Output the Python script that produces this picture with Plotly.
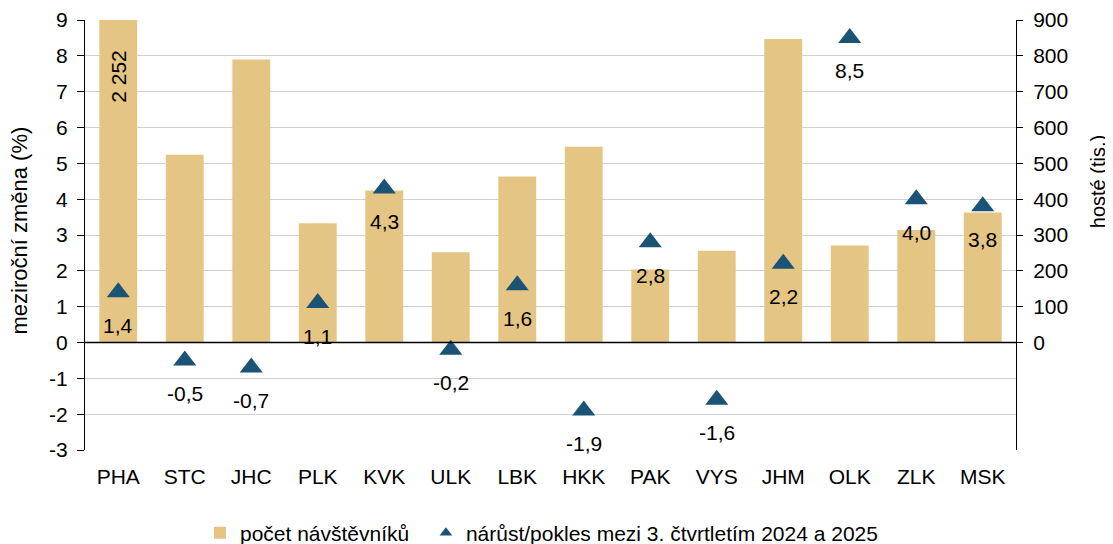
import plotly.graph_objects as go

kraje = ['PHA', 'STC', 'JHC', 'PLK', 'KVK', 'ULK', 'LBK', 'HKK', 'PAK', 'VYS', 'JHM', 'OLK', 'ZLK', 'MSK']
navstevnici = [2252, 524, 790, 333, 424, 252, 463, 546, 204, 256, 847, 271, 314, 363]
zmena = [1.4, -0.5, -0.7, 1.1, 4.3, -0.2, 1.6, -1.9, 2.8, -1.6, 2.2, 8.5, 4.0, 3.8]
ticky_zmena = list(range(-3, 10))
ticky_hoste = list(range(0, 901, 100))

bar_color = '#E5C584'
tri_color = '#1A5376'
font_family = 'Arial, Liberation Sans, sans-serif'

fig = go.Figure()

# sloupce na prave ose (hoste)
fig.add_trace(go.Bar(x=kraje, y=navstevnici, name='počet návštěvníků\u00a0\u00a0',
                     marker=dict(color=bar_color, line_width=0),
                     yaxis='y'))

# trojuhelniky na leve ose (mezirocni zmena)
fig.add_trace(go.Scatter(x=kraje, y=zmena, mode='markers', showlegend=False,
                         marker=dict(symbol='triangle-up', size=20, color=tri_color),
                         yaxis='y2'))
# jen pro legendu - mensi znacka
fig.add_trace(go.Scatter(x=[None], y=[None], mode='markers',
                         name='nárůst/pokles mezi 3. čtvrtletím 2024 a 2025',
                         marker=dict(symbol='triangle-up', size=11, color=tri_color),
                         yaxis='y2'))

y_max_hoste = ticky_hoste[-1]
annotations = []
for k, v in zip(kraje, zmena):
    annotations.append(dict(x=k, y=v, xref='x', yref='y2', text=f'{v:.1f}'.replace('.', ','),
                            showarrow=False, yshift=-33, font=dict(size=21, color='black')))
for k, v in zip(kraje, navstevnici):
    if v > y_max_hoste:
        annotations.append(dict(x=k, y=y_max_hoste, xref='x', yref='y', text=f'{v:,}'.replace(',', ' '),
                                showarrow=False, textangle=-90, yanchor='top', yshift=-28,
                                font=dict(size=21, color='black')))
# nazvy os
annotations.append(dict(x=-0.07, y=0.51, xref='paper', yref='paper', xanchor='center',
                        text='meziroční změna (%)',
                        showarrow=False, textangle=-90, font=dict(size=22, color='black')))
annotations.append(dict(x=1.088, y=450, xref='paper', yref='y', xanchor='center',
                        text='hosté (tis.)',
                        showarrow=False, textangle=-90, font=dict(size=20, color='black')))

# stranka ma okraj 8 px, proto o 8 px mensi plocha
fig.update_layout(
    width=1105, height=536,
    margin=dict(l=77, r=97, t=12, b=94, autoexpand=False),
    paper_bgcolor='white', plot_bgcolor='white',
    font=dict(family=font_family, size=21, color='black'),
    bargap=0.43,
    showlegend=True,
    legend=dict(orientation='h', x=0.4903, xanchor='center', y=-0.193, yanchor='middle',
                font=dict(size=21), itemwidth=30),
    xaxis=dict(range=[-0.5, len(kraje) - 0.5], showgrid=False, showline=False,
               ticks='outside', ticklen=8,
               tickcolor='rgba(0,0,0,0)', tickfont=dict(size=21), automargin=False),
    yaxis=dict(side='right', range=[-300, 900], tickvals=ticky_hoste,
               ticktext=[str(t) for t in ticky_hoste],
               showgrid=False, zeroline=False, showline=True, linecolor='black', linewidth=1,
               ticks='outside', ticklen=6, tickcolor='black', tickfont=dict(size=21),
               ticklabelstandoff=6, automargin=False),
    yaxis2=dict(side='left', overlaying='y', range=[-3, 9], tickvals=ticky_zmena,
                ticktext=[str(t) for t in ticky_zmena],
                showgrid=True, gridcolor='#d0d0d0', gridwidth=1, zeroline=False,
                showline=True, linecolor='black', linewidth=1,
                ticks='outside', ticklen=7, tickcolor='black', tickfont=dict(size=21),
                ticklabelstandoff=5, automargin=False),
    annotations=annotations,
    shapes=[dict(type='line', xref='paper', yref='y2', x0=0, x1=1, y0=0, y1=0,
                 line=dict(color='black', width=1.5), layer='above')],
)

fig.write_html('out.html')
